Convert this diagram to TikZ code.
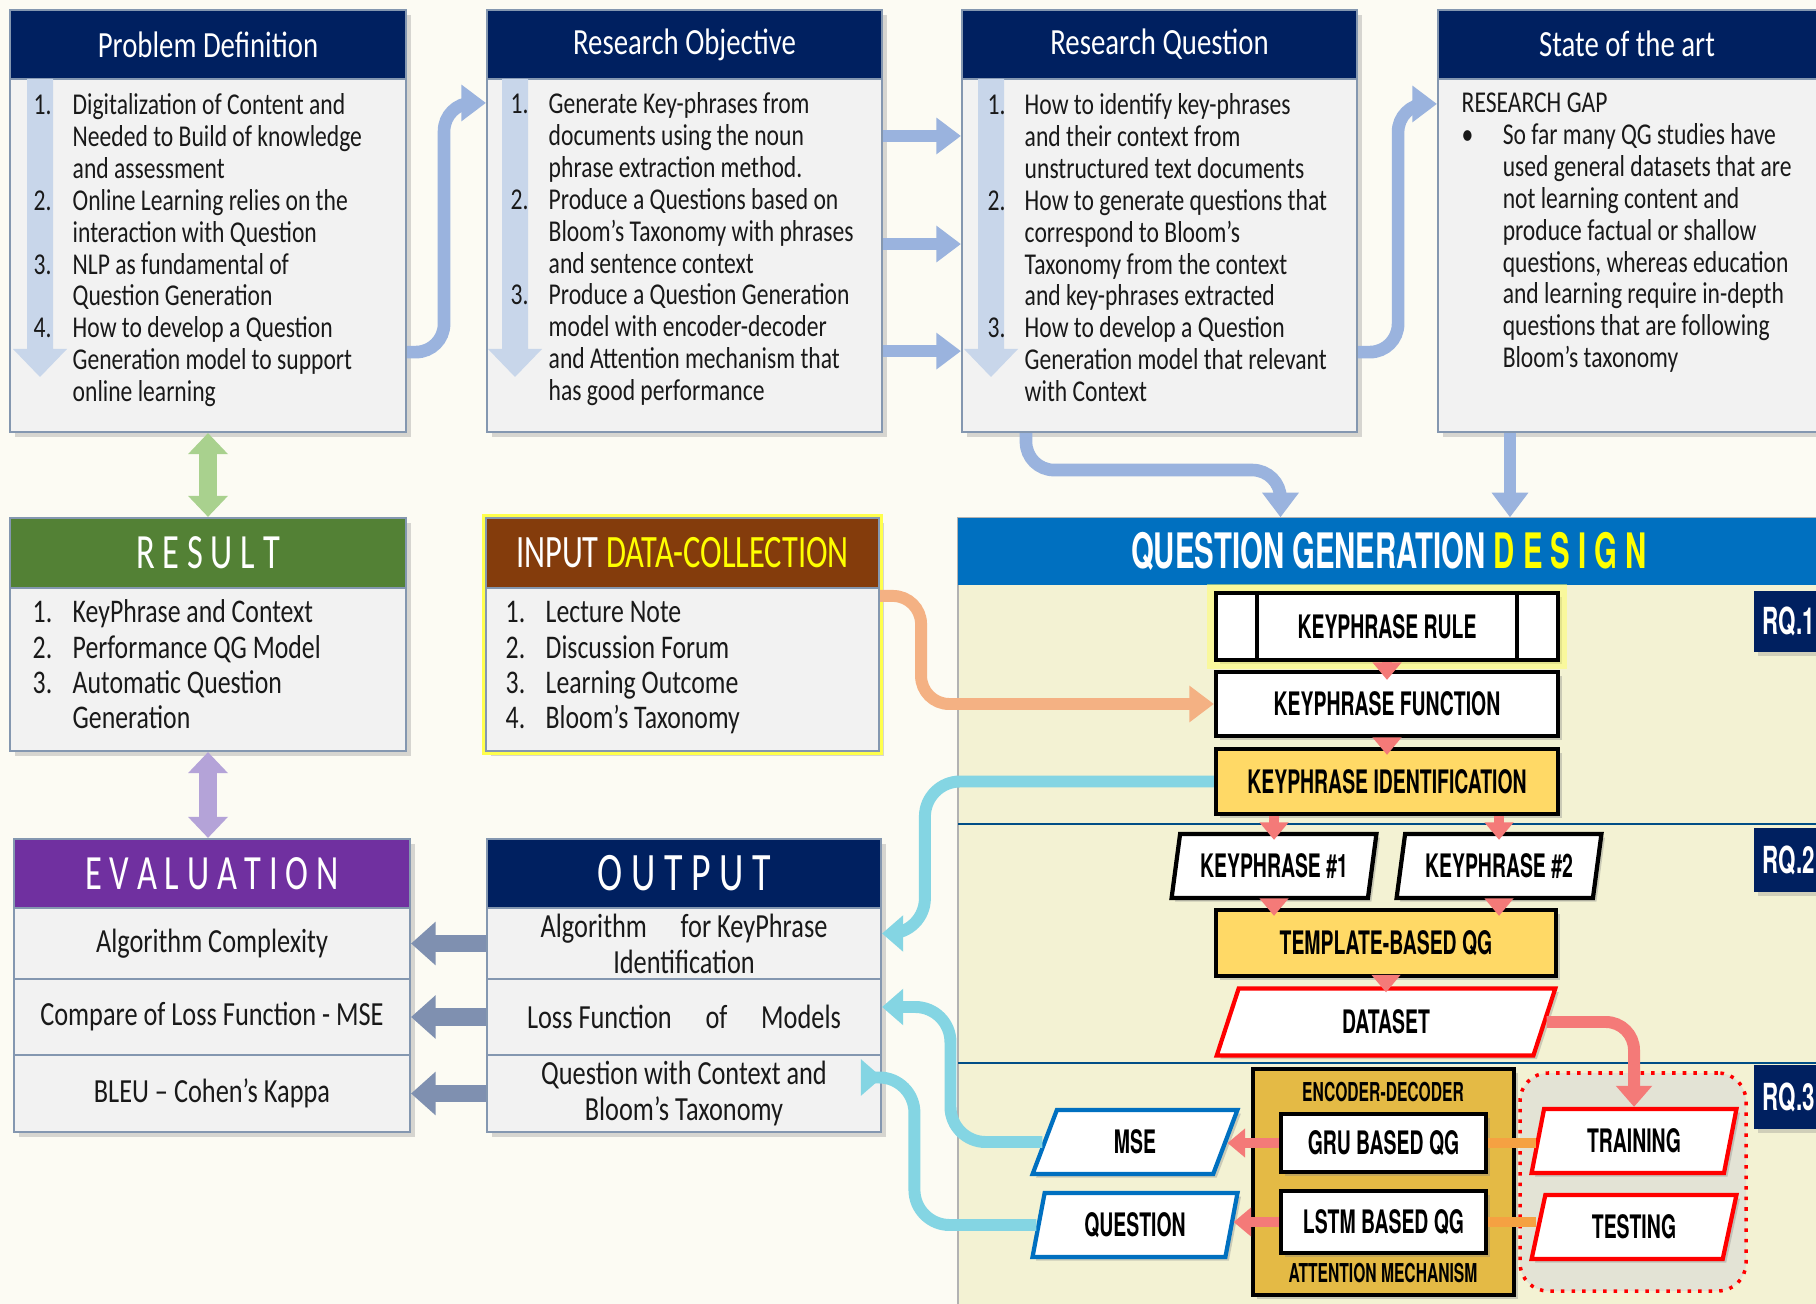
\documentclass[tikz,border=0pt]{standalone}
\usepackage{fontspec}
\setmainfont{Carlito}[FakeStretch=0.78]
\newfontfamily\hdfont{Carlito}[FakeStretch=0.7]
\newfontfamily\capsfont{TeX Gyre Heros}[FakeStretch=0.6]
\usetikzlibrary{
  arrows.meta,
  shapes.geometric,
  fit,
  shadows
}

\definecolor{bgcream}{HTML}{FCFBF3}
\definecolor{navy}{HTML}{002060}
\definecolor{boxfill}{HTML}{F2F2F2}
\definecolor{boxline}{HTML}{8497B0}
\definecolor{resgreen}{HTML}{538135}
\definecolor{inbrown}{HTML}{843C0C}
\definecolor{evpurple}{HTML}{7030A0}
\definecolor{dsgnblue}{HTML}{0070C0}
\definecolor{dsgnbody}{HTML}{F3F2D3}
\definecolor{kgold}{HTML}{FFD966}
\definecolor{encgold}{HTML}{E4BA45}
\definecolor{flowblue}{HTML}{9AB3DE}
\definecolor{lstblue}{HTML}{C8D6EA}
\definecolor{arrgreen}{HTML}{A9D18E}
\definecolor{arrpurple}{HTML}{B4A3D8}
\definecolor{arrgray}{HTML}{7F90B0}
\definecolor{arrorange}{HTML}{F4B183}
\definecolor{arrcyan}{HTML}{84D5E3}
\definecolor{arrred}{HTML}{F47A78}
\definecolor{lineorange}{HTML}{F5A142}
\definecolor{hiyellow}{HTML}{FFFF00}
\definecolor{grpfill}{HTML}{E3E3D5}
\definecolor{parablue}{HTML}{0070C0}

\newcommand{\numlist}[2]{\begin{tabular}[t]{@{}p{#1}@{}l@{}}#2\end{tabular}}

\tikzset{
  downarr/.pic={\fill[lstblue] (-13,0) -- (13,0) -- (13,270) -- (27,270) -- (0,298) -- (-27,270) -- (-13,270) -- cycle;}
}

\begin{document}
\begin{tikzpicture}[x=0.01cm, y=-0.01cm,
  frame/.style={fill=boxfill, draw=boxline, line width=0.6pt, inner sep=0pt, drop shadow={shadow xshift=1.5pt, shadow yshift=-1.5pt, opacity=0.3}},
  hdr/.style={fill=navy, draw=boxline, line width=0.6pt, inner sep=0pt},
  hdrtxt/.style={inner sep=0pt, text=white, font=\fontsize{10.5}{12}\selectfont},
  bigtxt/.style={inner sep=0pt, text=white, font=\hdfont\fontsize{14}{16}\selectfont},
  bodybox/.style={fill=boxfill, draw=boxline, line width=0.6pt, inner sep=0pt},
  lst/.style={anchor=base west, inner sep=0pt, text=black!90, font=\fontsize{8.6}{9.05}\selectfont},
  rowtxt/.style={inner sep=0pt, align=center, text=black!90, font=\fontsize{9.6}{10.2}\selectfont},
  dbox/.style={draw=black, line width=1.2pt, fill=white, inner sep=0pt, drop shadow={shadow xshift=1pt, shadow yshift=-1pt, opacity=0.35}},
  dtxt/.style={inner sep=0pt, font=\capsfont\bfseries\fontsize{9.2}{10}\selectfont},
  para/.style={trapezium, trapezium left angle=75, trapezium right angle=105, trapezium stretches=true, draw=black, line width=1.2pt, fill=white, inner sep=0pt, minimum width=2.05cm, minimum height=0.64cm, font=\capsfont\bfseries\fontsize{9.2}{10}\selectfont, drop shadow={shadow xshift=1pt, shadow yshift=-1pt, opacity=0.35}},
  captxt/.style={inner sep=0pt, font=\capsfont\bfseries\fontsize{7.4}{8}\selectfont},
  rqtag/.style={fill=navy, inner sep=0pt, drop shadow={shadow xshift=1pt, shadow yshift=-1pt, opacity=0.3}},
  rqtext/.style={anchor=west, inner sep=0pt, text=white, font=\capsfont\bfseries\fontsize{10.6}{12}\selectfont},
  grp/.style={draw=red, dotted, line width=1pt, rounded corners=8pt, fill=grpfill, inner sep=0pt},
  sepline/.style={draw=dsgnblue!70!black, line width=0.6pt},
  topflow/.style={draw=flowblue, line width=3.6pt, rounded corners=8pt, -{Triangle[length=7pt,width=10pt]}},
  dblgreen/.style={draw=arrgreen, line width=5pt, {Triangle[length=6pt,width=11pt]}-{Triangle[length=6pt,width=11pt]}},
  dblpurple/.style={draw=arrpurple, line width=5pt, {Triangle[length=6pt,width=11pt]}-{Triangle[length=6pt,width=11pt]}},
  grayarr/.style={draw=arrgray, line width=5pt, -{Triangle[length=7pt,width=12pt]}},
  orangearr/.style={draw=arrorange, line width=3.4pt, rounded corners=8pt, -{Triangle[length=7pt,width=10pt]}},
  cyanarr/.style={draw=arrcyan, line width=3.4pt, rounded corners=10pt, -{Triangle[length=6pt,width=10pt]}},
  redarr/.style={draw=arrred, line width=2.6pt, -{Triangle[length=5pt,width=8pt]}},
  redthick/.style={draw=arrred, line width=3.4pt, rounded corners=8pt, -{Triangle[length=6pt,width=10pt]}},
  orline/.style={draw=lineorange, line width=3pt},
]
  \fill[bgcream] (0,0) rectangle (1816,1304);
  \useasboundingbox (0,0) rectangle (1816,1304);

  % top row
  \node[frame, fit={(10,10) (406,432)}] (pd) {};
  \node[hdr, fit={(10,10) (406,79)}, label={[hdrtxt]center:Problem Definition}] (pdh) {};
  \node[bodybox, fit={(10,79) (406,432)}] (pdb) {};
  \pic at (40,79) {downarr};
  \node[lst] (pdl) at (33,115) {\numlist{0.39cm}{
    1. & Digitalization of Content and\\
       & Needed to Build of knowledge\\
       & and assessment\\
    2. & Online Learning relies on the\\
       & interaction with Question\\
    3. & NLP as fundamental of\\
       & Question Generation\\
    4. & How to develop a Question\\
       & Generation model to support\\
       & online learning}};

  \node[frame, fit={(487,10) (882,432)}] (ro) {};
  \node[hdr, fit={(487,10) (882,79)}, label={[hdrtxt]center:Research Objective}] (roh) {};
  \node[bodybox, fit={(487,79) (882,432)}] (rob) {};
  \pic at (515,79) {downarr};
  \node[lst] (rol) at (510,114) {\numlist{0.38cm}{
    1. & Generate Key-phrases from\\
       & documents using the noun\\
       & phrase extraction method.\\
    2. & Produce a Questions based on\\
       & Bloom's Taxonomy with phrases\\
       & and sentence context\\
    3. & Produce a Question Generation\\
       & model with encoder-decoder\\
       & and Attention mechanism that\\
       & has good performance}};

  \node[frame, fit={(962,10) (1357,432)}] (rq) {};
  \node[hdr, fit={(962,10) (1357,79)}, label={[hdrtxt]center:Research Question}] (rqh) {};
  \node[bodybox, fit={(962,79) (1357,432)}] (rqb) {};
  \pic at (991,79) {downarr};
  \node[lst] (rql) at (987,115) {\numlist{0.37cm}{
    1. & How to identify key-phrases\\
       & and their context from\\
       & unstructured text documents\\
    2. & How to generate questions that\\
       & correspond to Bloom’s\\
       & Taxonomy from the context\\
       & and key-phrases extracted\\
    3. & How to develop a Question\\
       & Generation model that relevant\\
       & with Context}};

  \node[frame, fit={(1438,10) (1840,432)}] (sa) {};
  \node[hdr, fit={(1438,10) (1840,79)}] (sah) {};
  \node[hdrtxt] (saht) at (1627,44) {State of the art};
  \node[bodybox, fit={(1438,79) (1840,432)}] (sab) {};
  \node[lst] (sal) at (1461,113) {\numlist{0.41cm}{
    \multicolumn{2}{@{}l@{}}{RESEARCH GAP}\\
    \textbullet & So far many QG studies have\\
       & used general datasets that are\\
       & not learning content and\\
       & produce factual or shallow\\
       & questions, whereas education\\
       & and learning require in-depth\\
       & questions that are following\\
       & Bloom's taxonomy}};

  \draw[topflow] ([yshift=-2.74cm]pdb.north east) -- ++(37,0) |- ([yshift=-0.25cm]rob.north west);
  \draw[topflow] ([yshift=-0.58cm]rob.north east) -- ([yshift=-0.58cm]rqb.north west);
  \draw[topflow] ([yshift=-1.66cm]rob.north east) -- ([yshift=-1.66cm]rqb.north west);
  \draw[topflow] ([yshift=-2.73cm]rob.north east) -- ([yshift=-2.73cm]rqb.north west);
  \draw[topflow] ([yshift=-2.74cm]rqb.north east) -- ++(40,0) |- ([yshift=-0.26cm]sab.north west);

  % result, input, evaluation, output
  \node[frame, fit={(10,518) (406,751)}] (res) {};
  \node[hdr, fill=resgreen, fit={(10,518) (406,588)}, label={[bigtxt]center:R E S U L T}] (resh) {};
  \node[bodybox, fit={(10,588) (406,751)}] (resb) {};
  \node[lst, font=\fontsize{9.4}{9.96}\selectfont] (resl) at (32,623) {\numlist{0.40cm}{
    1. & KeyPhrase and Context\\
    2. & Performance QG Model\\
    3. & Automatic Question\\
       & Generation}};

  \node[frame, draw=hiyellow!70, line width=2.5pt, fit={(486,518) (879,751)}] (inp) {};
  \node[hdr, fill=inbrown, fit={(486,518) (879,588)}, label={[bigtxt, font=\hdfont\fontsize{13.2}{15}\selectfont]center:INPUT \textcolor{hiyellow}{DATA-COLLECTION}}] (inph) {};
  \node[bodybox, fit={(486,588) (879,751)}] (inpb) {};
  \node[lst, font=\fontsize{9.4}{9.96}\selectfont] (inpl) at (505,623) {\numlist{0.40cm}{
    1. & Lecture Note\\
    2. & Discussion Forum\\
    3. & Learning Outcome\\
    4. & Bloom’s Taxonomy}};

  \node[frame, fit={(14,839) (410,1132)}] (ev) {};
  \node[hdr, fill=evpurple, fit={(14,839) (410,908)}, label={[bigtxt]center:E V A L U A T I O N}] (evh) {};
  \node[bodybox, fit={(14,908) (410,979)}, label={[rowtxt]center:Algorithm Complexity}] (ev1) {};
  \node[bodybox, fit={(14,979) (410,1055)}, label={[rowtxt]center:Compare of Loss Function - MSE}] (ev2) {};
  \node[bodybox, fit={(14,1055) (410,1132)}, label={[rowtxt]center:BLEU -- Cohen’s Kappa}] (ev3) {};

  \node[frame, fit={(487,839) (881,1132)}] (out) {};
  \node[hdr, fit={(487,839) (881,908)}, label={[bigtxt, font=\hdfont\fontsize{15.4}{17}\selectfont]center:O U T P U T}] (outh) {};
  \node[bodybox, fit={(487,908) (881,979)}, label={[rowtxt]center:Algorithm\quad for KeyPhrase\\Identification}] (out1) {};
  \node[bodybox, fit={(487,979) (881,1055)}, label={[rowtxt]center:Loss Function\quad of\quad Models}] (out2) {};
  \node[bodybox, fit={(487,1055) (881,1132)}, label={[rowtxt]center:Question with Context and\\Bloom’s Taxonomy}] (out3) {};

  \draw[dblgreen] (pd.south) -- (res.north);
  \draw[dblpurple] (res.south) -- (res.south |- ev.north);
  \draw[grayarr] (out1.west) -- (ev1.east);
  \draw[grayarr] (out2.west) -- (ev2.east);
  \draw[grayarr] (out3.west) -- (ev3.east);

  % design
  \node[fill=dsgnbody, draw=gray!60, line width=0.6pt, inner sep=0pt, fit={(958,518) (1830,1310)}] (dsg) {};
  \node[fill=dsgnblue, inner sep=0pt, fit={(958,518) (1830,585)}] (dsgh) {};
  \node[inner sep=0pt, text=white, font=\capsfont\bfseries\fontsize{13.9}{15}\selectfont] (dsght) at (1389,551) {QUESTION GENERATION \textcolor{hiyellow}{D E S I G N}};
  \draw[sepline] (958,824) -- (1830,824);
  \draw[sepline] (958,1063) -- (1830,1063);
  \node[rqtag, fit={(1754,591) (1830,652)}] (rq1) {};
  \node[rqtext] (rq1t) at (1762,621) {RQ.1};
  \node[rqtag, fit={(1754,828) (1830,892)}] (rq2) {};
  \node[rqtext] (rq2t) at (1762,860) {RQ.2};
  \node[rqtag, fit={(1754,1065) (1830,1129)}] (rq3) {};
  \node[rqtext] (rq3t) at (1762,1097) {RQ.3};

  \draw[topflow] ([xshift=0.65cm]rqb.south west) -- ++(0,37) -| ([xshift=3.23cm]dsgh.north west);
  \draw[topflow] ([xshift=0.73cm]sab.south west) -- ([xshift=0.73cm]sab.south west |- dsgh.north);

  \node[dbox, preaction={draw=hiyellow!60, line width=5pt, draw opacity=0.5}, fit={(1216,593) (1558,660)}, label={[dtxt]center:KEYPHRASE RULE}] (krule) {};
  \draw[line width=1.2pt] ([xshift=0.43cm]krule.north west) -- ([xshift=0.43cm]krule.south west);
  \draw[line width=1.2pt] ([xshift=-0.43cm]krule.north east) -- ([xshift=-0.43cm]krule.south east);
  \node[dbox, fit={(1216,672) (1558,736)}, label={[dtxt]center:KEYPHRASE FUNCTION}] (kfunc) {};
  \node[dbox, fill=kgold, fit={(1216,749) (1558,814)}, label={[dtxt]center:KEYPHRASE IDENTIFICATION}] (kident) {};
  \node[para] (kp1) at (1274,866) {KEYPHRASE \#1};
  \node[para] (kp2) at (1499,866) {KEYPHRASE \#2};
  \node[dbox, fill=kgold, fit={(1216,910) (1556,976)}, label={[dtxt]center:TEMPLATE-BASED QG}] (tmpl) {};
  \node[para, draw=red, minimum width=3.39cm, minimum height=0.67cm] (dset) at (1386,1022) {DATASET};
  \node[dbox, fill=encgold, fit={(1253,1069) (1514,1295)}] (enc) {};
  \node[captxt] (enct) at (1383,1092) {ENCODER-DECODER};
  \node[captxt] (attt) at (1383,1273) {ATTENTION MECHANISM};
  \node[dbox, fit={(1281,1114) (1486,1172)}, label={[dtxt]center:GRU BASED QG}] (gru) {};
  \node[dbox, fit={(1281,1191) (1486,1253)}, label={[dtxt]center:LSTM BASED QG}] (lstm) {};
  \node[para, draw=parablue] (mse) at (1135,1142) {MSE};
  \node[para, draw=parablue] (quest) at (1135,1225) {QUESTION};
  \node[grp, fit={(1520,1073) (1746,1291)}] (grp) {};
  \node[para, draw=red] (train) at (1634,1141) {TRAINING};
  \node[para, draw=red] (test) at (1634,1227) {TESTING};

  \draw[redarr] (krule.south) -- ([yshift=-0.1cm]kfunc.north);
  \draw[redarr] (kfunc.south) -- ([yshift=-0.08cm]kident.north);
  \draw[redarr] (kident.south -| kp1.north) -- ([yshift=-0.08cm]kp1.north);
  \draw[redarr] (kident.south -| kp2.north) -- ([yshift=-0.08cm]kp2.north);
  \draw[redarr] (kp1.south) -- ([yshift=-0.08cm]kp1.south |- tmpl.north);
  \draw[redarr] (kp2.south) -- ([yshift=-0.08cm]kp2.south |- tmpl.north);
  \draw[redarr] (tmpl.south) -- ([yshift=-0.06cm]dset.north);
  \draw[redthick] (dset.east) -| (train.north);
  \draw[orline] (gru.east) -- (gru.east -| train.west);
  \draw[orline] (lstm.east) -- (lstm.east -| test.west);
  \draw[redarr] (gru.west) -- (gru.west -| mse.east);
  \draw[redarr] (lstm.west) -- (lstm.west -| quest.east);

  \draw[orangearr] ([yshift=-0.09cm]inpb.north east) -- ++(41,0) |- (kfunc.west);
  \draw[cyanarr] (kident.west) -- ++(-289,0) |- ([yshift=0.1cm]out1.east);
  \draw[cyanarr] (mse.west) -- ++(-92,0) |- ([yshift=0.1cm]out2.east);
  \draw[cyanarr] (quest.west) -- ++(-122,0) |- ([yshift=0.16cm]out3.east);
\end{tikzpicture}
\end{document}
